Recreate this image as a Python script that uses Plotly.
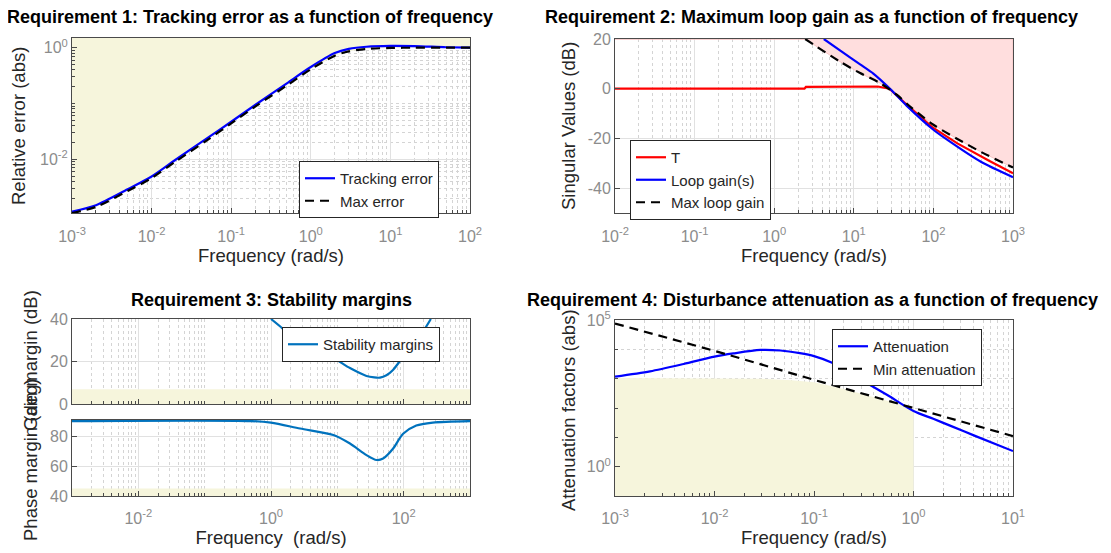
import plotly.graph_objects as go

# page body has an 8px margin, so the figure occupies the window minus that offset
OFF = 8
W, H = 1111 - OFF, 553 - OFF

# ---------------- data ----------------
# Requirement 1
w1 = [0.001, 0.002, 0.005, 0.01, 0.02, 0.05, 0.1, 0.2, 0.5, 1, 2, 3, 5, 10, 20, 50, 100]
track_err = [0.00115, 0.0015, 0.0029, 0.0049, 0.0098, 0.024, 0.047, 0.094, 0.23, 0.45, 0.8, 0.95, 1.04, 1.08, 1.07, 1.02, 1.0]
max_err = [0.00108, 0.0014, 0.0027, 0.0046, 0.0091, 0.022, 0.044, 0.088, 0.21, 0.41, 0.72, 0.86, 0.95, 0.99, 1.0, 1.0, 1.0]

# Requirement 2
w2_T = [0.01, 2.4, 2.5, 20, 28, 46, 100, 200, 500, 1000]
T_db = [0, 0, 0.7, 0.9, 0, -6.4, -15.8, -22, -29, -34]
w2_L = [4.2, 6.7, 12, 17.6, 28.5, 46, 100, 141, 400, 1000]
L_db = [20, 15.4, 9.8, 6.1, 0.0, -6.8, -16.5, -20, -29.5, -35.6]
w2_M = [2.45, 6.7, 12, 21.3, 34.6, 53.3, 100, 195, 400, 1000]
M_db = [20, 10.9, 6.3, 2.3, -2.4, -7.7, -14.5, -20, -25.5, -31.7]

# Requirement 3
w3_gm = [1.0, 1.5, 2.5, 3.9, 8.7, 15.5, 27.5, 36, 44, 55, 69, 112, 182, 257]
gm_db = [40, 35.5, 29.5, 25.5, 21.6, 16.9, 13.2, 12.5, 12.4, 13.5, 16, 24.7, 32.6, 40]
w3_pm = [0.001, 0.5, 1.0, 2.75, 8.7, 15.5, 27.5, 39, 49, 69, 98, 155, 275, 1000]
pm_deg = [90, 90, 88.9, 85, 80.7, 75, 67.3, 64, 65, 71.5, 81.5, 87, 89, 90]
gm_min = 7
pm_min = 45

# Requirement 4
w4 = [0.001, 0.00225, 0.0049, 0.01, 0.0155, 0.029, 0.046, 0.072, 0.1, 0.15, 0.233, 0.54, 1.0, 1.58, 2.33, 4.15, 10]
atten = [1175, 1778, 3162, 5623, 7244, 9550, 9120, 7413, 5888, 3548, 1479, 282, 79, 42.7, 25.1, 11.2, 3.4]
w4_min = [0.001, 0.01, 0.1, 1, 10]
min_atten = [75900, 8900, 912, 100, 11]
w4_shade = [0.001, 0.01, 0.03, 0.06, 0.1, 0.2, 0.5, 1.0]
shade_bound = [1050, 1050, 1000, 890, 760, 447, 190, 100]

# ---------------- styles ----------------
FONT = "Liberation Sans, Arial, sans-serif"
AX_COL = "#4a4a4a"
TICK_COL = "#8c8c8c"
GRID = "#e1e1e1"
MGRID = "#d4d4d4"
YELLOW = "#f6f5dc"
PINK = "#ffdede"
BLUE = "#0000ff"
MBLUE = "#0072bd"
DASH = "9px,6px"


def dx(l, r):
    return [(l - OFF) / W, (r - OFF) / W]


def dy(t, b):
    return [1 - (b - OFF) / H, 1 - (t - OFF) / H]


def px(x):
    return (x - OFF) / W


def py(y):
    return 1 - (y - OFF) / H


def sup(d):
    return "10<sup>%d</sup>" % d


def log_minor(lo, hi, decades_only=False, skip=()):
    vals = []
    for e in range(lo, hi + 1):
        if decades_only:
            if e not in skip:
                vals.append(10.0 ** e)
            continue
        for m in range(1, 10):
            if m == 1 and e in skip:
                continue
            v = m * 10.0 ** e
            if v <= 10.0 ** hi:
                vals.append(v)
    return vals


def base_axis(**kw):
    d = dict(showline=True, mirror=True, linecolor=AX_COL, linewidth=1,
             ticks="inside", ticklen=5, tickcolor=AX_COL,
             showgrid=True, gridcolor=GRID, gridwidth=1, zeroline=False,
             tickfont=dict(family=FONT, size=16, color=TICK_COL),
             layer="above traces", automargin=False)
    d.update(kw)
    return d


fig = go.Figure()

# ---- Panel 1 ----
y1_range = [-2.963, 0.174]
top1 = 10 ** y1_range[1]
fig.add_trace(go.Scatter(x=w1 + w1[::-1], y=max_err + [top1] * len(w1), fill="toself",
                         fillcolor=YELLOW, line=dict(width=0), mode="lines",
                         hoverinfo="skip", showlegend=False, xaxis="x", yaxis="y"))
fig.add_trace(go.Scatter(x=w1, y=track_err, mode="lines", name="Tracking error",
                         line=dict(color=BLUE, width=2.2, shape="spline", smoothing=0.8), legend="legend",
                         xaxis="x", yaxis="y"))
fig.add_trace(go.Scatter(x=w1, y=max_err, mode="lines", name="Max error",
                         line=dict(color="black", width=2.2, dash=DASH, shape="spline", smoothing=0.8),
                         legend="legend", xaxis="x", yaxis="y"))

# ---- Panel 2 ----
y2_top = 20
px2 = [0.01] + w2_M + [1000, 0.01]
py2 = [y2_top] + M_db + [y2_top, y2_top]
fig.add_trace(go.Scatter(x=px2, y=py2, fill="toself", fillcolor=PINK,
                         line=dict(width=1, color="#f7c4c4"), mode="lines",
                         hoverinfo="skip", showlegend=False, xaxis="x2", yaxis="y2"))
fig.add_trace(go.Scatter(x=w2_T, y=T_db, mode="lines", name="T",
                         line=dict(color="#ff0000", width=2.2), legend="legend2",
                         xaxis="x2", yaxis="y2"))
fig.add_trace(go.Scatter(x=w2_L, y=L_db, mode="lines", name="Loop gain(s)",
                         line=dict(color=BLUE, width=2.2, shape="spline", smoothing=0.6), legend="legend2",
                         xaxis="x2", yaxis="y2"))
fig.add_trace(go.Scatter(x=w2_M, y=M_db, mode="lines", name="Max loop gain",
                         line=dict(color="black", width=2.2, dash=DASH, shape="spline", smoothing=0.8),
                         legend="legend2", xaxis="x2", yaxis="y2"))

# ---- Panel 3 ----
fig.add_trace(go.Scatter(x=[1e-3, 1e3, 1e3, 1e-3], y=[0, 0, gm_min, gm_min], fill="toself",
                         fillcolor=YELLOW, line=dict(width=0), mode="lines",
                         hoverinfo="skip", showlegend=False, xaxis="x3", yaxis="y3"))
fig.add_trace(go.Scatter(x=w3_gm, y=gm_db, mode="lines", name="Stability margins",
                         line=dict(color=MBLUE, width=2.2, shape="spline", smoothing=0.8), legend="legend3",
                         xaxis="x3", yaxis="y3"))
fig.add_trace(go.Scatter(x=[1e-3, 1e3, 1e3, 1e-3], y=[40, 40, pm_min, pm_min], fill="toself",
                         fillcolor=YELLOW, line=dict(width=0), mode="lines",
                         hoverinfo="skip", showlegend=False, xaxis="x4", yaxis="y4"))
fig.add_trace(go.Scatter(x=w3_pm, y=pm_deg, mode="lines", name="Stability margins",
                         line=dict(color=MBLUE, width=2.2, shape="spline", smoothing=0.8), showlegend=False,
                         xaxis="x4", yaxis="y4"))

# ---- Panel 4 ----
bot4 = 0.1
fig.add_trace(go.Scatter(x=w4_shade + [w4_shade[-1], w4_shade[0]],
                         y=shade_bound + [bot4, bot4], fill="toself",
                         fillcolor=YELLOW, line=dict(width=0), mode="lines",
                         hoverinfo="skip", showlegend=False, xaxis="x5", yaxis="y5"))
fig.add_trace(go.Scatter(x=w4, y=atten, mode="lines", name="Attenuation",
                         line=dict(color=BLUE, width=2.2, shape="spline", smoothing=0.8), legend="legend4",
                         xaxis="x5", yaxis="y5"))
fig.add_trace(go.Scatter(x=w4_min, y=min_atten, mode="lines", name="Min attenuation",
                         line=dict(color="black", width=2.2, dash=DASH), legend="legend4",
                         xaxis="x5", yaxis="y5"))

minor_common = dict(showgrid=True, griddash="dot", gridcolor=MGRID, ticks="inside",
                    ticklen=3, tickcolor=AX_COL, tickmode="array")

title_font = dict(family=FONT, size=18.5, color="#262626")
XSTAND = 9


def lin_ticks(vals):
    return dict(tickvals=vals, ticktext=[str(v) for v in vals])


fig.update_layout(
    width=W, height=H, margin=dict(l=0, r=0, t=0, b=0, autoexpand=False),
    paper_bgcolor="white", plot_bgcolor="white",
    font=dict(family=FONT, color="#262626"),
    # panel 1
    xaxis=base_axis(type="log", range=[-3, 2], domain=dx(72, 470), anchor="y",
                    tickvals=[10.0 ** e for e in range(-3, 3)], ticktext=[sup(e) for e in range(-3, 3)],
                    ticklabelstandoff=XSTAND,
                    minor=dict(tickvals=log_minor(-3, 2, skip=range(-3, 3)), **minor_common),
                    title=dict(text="Frequency (rad/s)", font=title_font, standoff=4)),
    yaxis=base_axis(type="log", range=y1_range, domain=dy(38, 213), anchor="x",
                    tickvals=[0.01, 1], ticktext=[sup(-2), sup(0)],
                    minor=dict(tickvals=log_minor(-3, 0, skip=(-2, 0)), **minor_common)),
    # panel 2
    xaxis2=base_axis(type="log", range=[-2, 3], domain=dx(615, 1013), anchor="y2",
                     tickvals=[10.0 ** e for e in range(-2, 4)], ticktext=[sup(e) for e in range(-2, 4)],
                     ticklabelstandoff=XSTAND,
                     minor=dict(tickvals=log_minor(-2, 3, skip=range(-2, 4)), **minor_common),
                     title=dict(text="Frequency (rad/s)", font=title_font, standoff=4)),
    yaxis2=base_axis(range=[-50, 20], domain=dy(39, 213), anchor="x2", **lin_ticks([-40, -20, 0, 20])),
    # panel 3 top
    xaxis3=base_axis(type="log", range=[-3, 3], domain=dx(72, 470), anchor="y3",
                     tickvals=[1e-2, 1, 1e2], showticklabels=False,
                     minor=dict(tickvals=log_minor(-3, 3, skip=(-2, 0, 2)), **minor_common)),
    yaxis3=base_axis(range=[0, 40], domain=dy(319, 404), anchor="x3", **lin_ticks([0, 20, 40])),
    # panel 3 bottom
    xaxis4=base_axis(type="log", range=[-3, 3], domain=dx(72, 470), anchor="y4",
                     tickvals=[1e-2, 1, 1e2], ticktext=[sup(-2), sup(0), sup(2)],
                     ticklabelstandoff=XSTAND - 1,
                     minor=dict(tickvals=log_minor(-3, 3, skip=(-2, 0, 2)), **minor_common),
                     title=dict(text="Frequency\u00a0 (rad/s)", font=title_font, standoff=4)),
    yaxis4=base_axis(range=[40, 90.7], domain=dy(420, 496), anchor="x4", **lin_ticks([40, 60, 80])),
    # panel 4
    xaxis5=base_axis(type="log", range=[-3, 1], domain=dx(615, 1013), anchor="y5",
                     tickvals=[10.0 ** e for e in range(-3, 2)], ticktext=[sup(e) for e in range(-3, 2)],
                     ticklabelstandoff=XSTAND - 1,
                     minor=dict(tickvals=log_minor(-3, 1, skip=range(-3, 2)), **minor_common),
                     title=dict(text="Frequency (rad/s)", font=title_font, standoff=4)),
    yaxis5=base_axis(type="log", range=[-1, 5], domain=dy(320, 496), anchor="x5",
                     tickvals=[1, 1e5], ticktext=[sup(0), sup(5)],
                     minor=dict(tickvals=log_minor(-1, 5, decades_only=True, skip=(0, 5)), **minor_common)),
)

leg_common = dict(bgcolor="white", bordercolor="#262626", borderwidth=1,
                  font=dict(family=FONT, size=15, color="#262626"),
                  xanchor="left", yanchor="top", tracegroupgap=0, itemwidth=30)
fig.update_layout(
    legend=dict(x=px(299), y=py(161), **leg_common),
    legend2=dict(x=px(630), y=py(140), **leg_common),
    legend3=dict(x=px(282), y=py(327), **leg_common),
    legend4=dict(x=px(832), y=py(329), **leg_common),
)

# titles
titles = [
    ("Requirement 1: Tracking error as a function of frequency", 250, 17),
    ("Requirement 2: Maximum loop gain as a function of frequency", 811, 17),
    ("Requirement 3: Stability margins", 271, 300),
    ("Requirement 4: Disturbance attenuation as a function of frequency", 812, 300),
]
for txt, cx, cy in titles:
    fig.add_annotation(text="<b>%s</b>" % txt, x=px(cx), y=py(cy), xref="paper", yref="paper",
                       showarrow=False, xanchor="center", yanchor="middle",
                       font=dict(family=FONT, size=18, color="black"))

# y-axis titles
ytitles = [
    ("Relative error (abs)", 18, 126),
    ("Singular Values (dB)", 568, 126),
    ("Gain margin (dB)", 30, 361),
    ("Phase margin (deg)", 30, 460),
    ("Attenuation factors (abs)", 568, 410),
]
for txt, cx, cy in ytitles:
    fig.add_annotation(text=txt, x=px(cx), y=py(cy), xref="paper", yref="paper",
                       showarrow=False, xanchor="center", yanchor="middle", textangle=-90,
                       font=title_font)

fig.write_html("out.html")
